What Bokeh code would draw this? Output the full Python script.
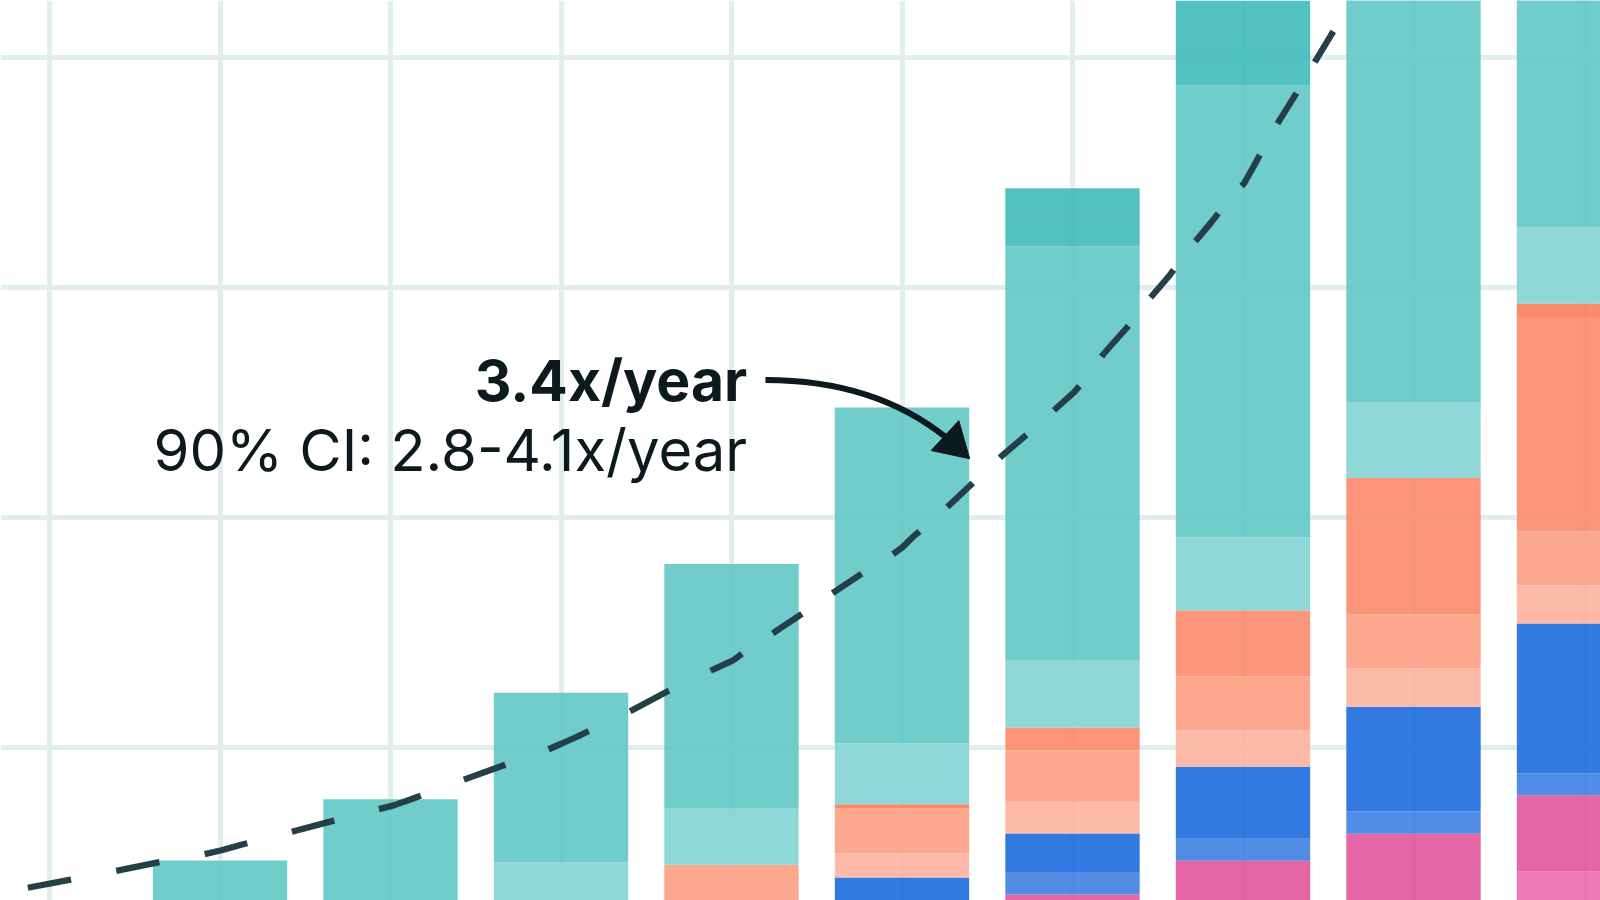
from bokeh.plotting import figure
from bokeh.models import ColumnDataSource, FixedTicker
from bokeh.core.properties import value
from bokeh.embed import file_html
from bokeh.resources import INLINE

# ---------------- data ----------------
periods = [0, 1, 2, 3, 4, 5, 6, 7, 8, 9]

# stacked segments, bottom -> top
light_pink   = [0, 0, 0, 0, 0, 0, 0.1, 0.2, 0.2, 0.461]
pink         = [0, 0, 0, 0, 0, 0.1, 0.26, 0.306, 0.4235, 0.33]
light_blue   = [0, 0, 0, 0, 0, 0.1, 0.097, 0.096, 0.097, 0.096]
blue         = [0, 0, 0, 0, 0.1, 0.2335, 0.168, 0.313, 0.455, 0.651]
palest_coral = [0, 0, 0, 0, 0.1, 0.1055, 0.138, 0.159, 0.168, 0.1665]
light_coral  = [0, 0, 0, 0.2, 0.2887, 0.1945, 0.223, 0.2335, 0.2335, 0.2335]
coral        = [0, 0, 0, 0, 0, 0, 0.1, 0.287, 0.593, 0.932]
dark_coral   = [0, 0, 0, 0, 0, 0.0185, 0, 0, 0, 0.059]
light_teal   = [0, 0, 0, 0.3, 0.2439, 0.2654, 0.29, 0.317, 0.33, 0.331]
teal         = [0.25, 0.507, 0.774, 0.7365, 1.0644, 1.4591, 1.8013, 1.9653, 2.2, 1.94]
dark_teal    = [0, 0, 0, 0, 0, 0, 0.2534, 0.623, 0.3, 0.4]

grid_levels = [1, 2, 3, 4]

# fitted trend (3.4x/year), read point by point
trend_x = [-0.127, 0.123, 0.374, 0.622, 0.878, 1.003, 1.130, 1.380, 1.629, 1.887,
           2.019, 2.137, 2.385, 2.632, 2.886, 3.002, 3.118, 3.384, 3.615, 3.882,
           4.009, 4.066, 4.252, 4.414, 4.587, 4.749, 4.923, 5.004, 5.073, 5.258,
           5.420, 5.582, 5.755, 5.929, 6.010, 6.068, 6.188, 6.321, 6.438, 6.569,
           6.688, 6.815, 6.937, 7.005, 7.063, 7.181, 7.308, 7.435, 7.556]
trend_y = [0.389, 0.424, 0.460, 0.497, 0.530, 0.551, 0.577, 0.624, 0.673, 0.722,
           0.747, 0.778, 0.847, 0.913, 0.978, 1.015, 1.054, 1.148, 1.239, 1.334,
           1.377, 1.409, 1.500, 1.580, 1.667, 1.747, 1.826, 1.870, 1.920, 2.039,
           2.152, 2.264, 2.374, 2.490, 2.544, 2.594, 2.715, 2.826, 2.938, 3.051,
           3.171, 3.283, 3.399, 3.450, 3.526, 3.686, 3.837, 3.996, 4.145]

headline = "3.4x/year"
subline = "90% CI: 2.8-4.1x/year"

# annotation anchor (data units)
label_x = 4.092
headline_y = 2.595
subline_y = 2.293
arrow_start = (4.199, 2.597)
arrow_ctrl1 = (4.639, 2.597)
arrow_ctrl2 = (4.991, 2.507)
arrow_end = (5.262, 2.345)
arrow_head_x = [5.397, 5.333, 5.171]
arrow_head_y = [2.254, 2.420, 2.290]

# ---------------- figure ----------------
W, H = 1600, 900
p = figure(width=W, height=H, output_backend="svg", toolbar_location=None,
           x_range=(-0.28739, 9.09677), y_range=(0.33348, 4.24652),
           min_border=0, min_border_left=0, min_border_right=0,
           min_border_top=0, min_border_bottom=0)
p.xaxis.visible = False
p.yaxis.visible = False
p.outline_line_color = None
p.background_fill_color = "white"
p.border_fill_color = "white"

p.xgrid.ticker = FixedTicker(ticks=periods)
p.ygrid.ticker = FixedTicker(ticks=grid_levels)
for g in (p.xgrid, p.ygrid):
    g.grid_line_color = "#e1eeee"
    g.grid_line_alpha = 1.0
    g.grid_line_width = 5

names = ["light_pink", "pink", "light_blue", "blue", "palest_coral", "light_coral",
         "coral", "dark_coral", "light_teal", "teal", "dark_teal"]
series = [light_pink, pink, light_blue, blue, palest_coral, light_coral,
          coral, dark_coral, light_teal, teal, dark_teal]
colors = ["#e96cad", "#e3549b", "#3f7fe2", "#1c6ade", "#fdb29e", "#fc9f83",
          "#fc8a6c", "#f87d5c", "#84d4d3", "#62c6c6", "#3fbabb"]

data = {"period": periods}
for n, s in zip(names, series):
    data[n] = s
src = ColumnDataSource(data)
p.vbar_stack(names, x="period", width=0.788, source=src, fill_color=colors,
             fill_alpha=0.9, line_color=None)

# dashed trend, drawn in three runs so the dash rhythm follows the original
runs = [(0, 19, "44 46"), (19, 36, "35 37"), (36, len(trend_x) - 1, "36 36")]
for a, b, dash in runs:
    p.line(trend_x[a:b + 1], trend_y[a:b + 1], line_color="#253f48",
           line_width=6.3, line_dash=dash, line_cap="butt", level="overlay")

# curved arrow
p.bezier(x0=[arrow_start[0]], y0=[arrow_start[1]], x1=[arrow_end[0]], y1=[arrow_end[1]],
         cx0=[arrow_ctrl1[0]], cy0=[arrow_ctrl1[1]], cx1=[arrow_ctrl2[0]], cy1=[arrow_ctrl2[1]],
         line_color="#0c1a1d", line_width=6, level="overlay")
p.patch(arrow_head_x, arrow_head_y, fill_color="#0c1a1d", line_color="#0c1a1d",
        line_width=1, level="overlay")

p.text(x=[label_x], y=[headline_y], text=[headline], text_font=value("Inter"),
       text_font_size="57px", text_font_style="bold", text_color="#0c1a1d",
       text_align="right", text_baseline="alphabetic", level="overlay")
p.text(x=[label_x], y=[subline_y], text=[subline], text_font=value("Inter"),
       text_font_size="58px", text_font_style="normal", text_color="#0c1a1d",
       text_align="right", text_baseline="alphabetic", level="overlay")

open("out.html", "w").write(file_html(p, INLINE))
